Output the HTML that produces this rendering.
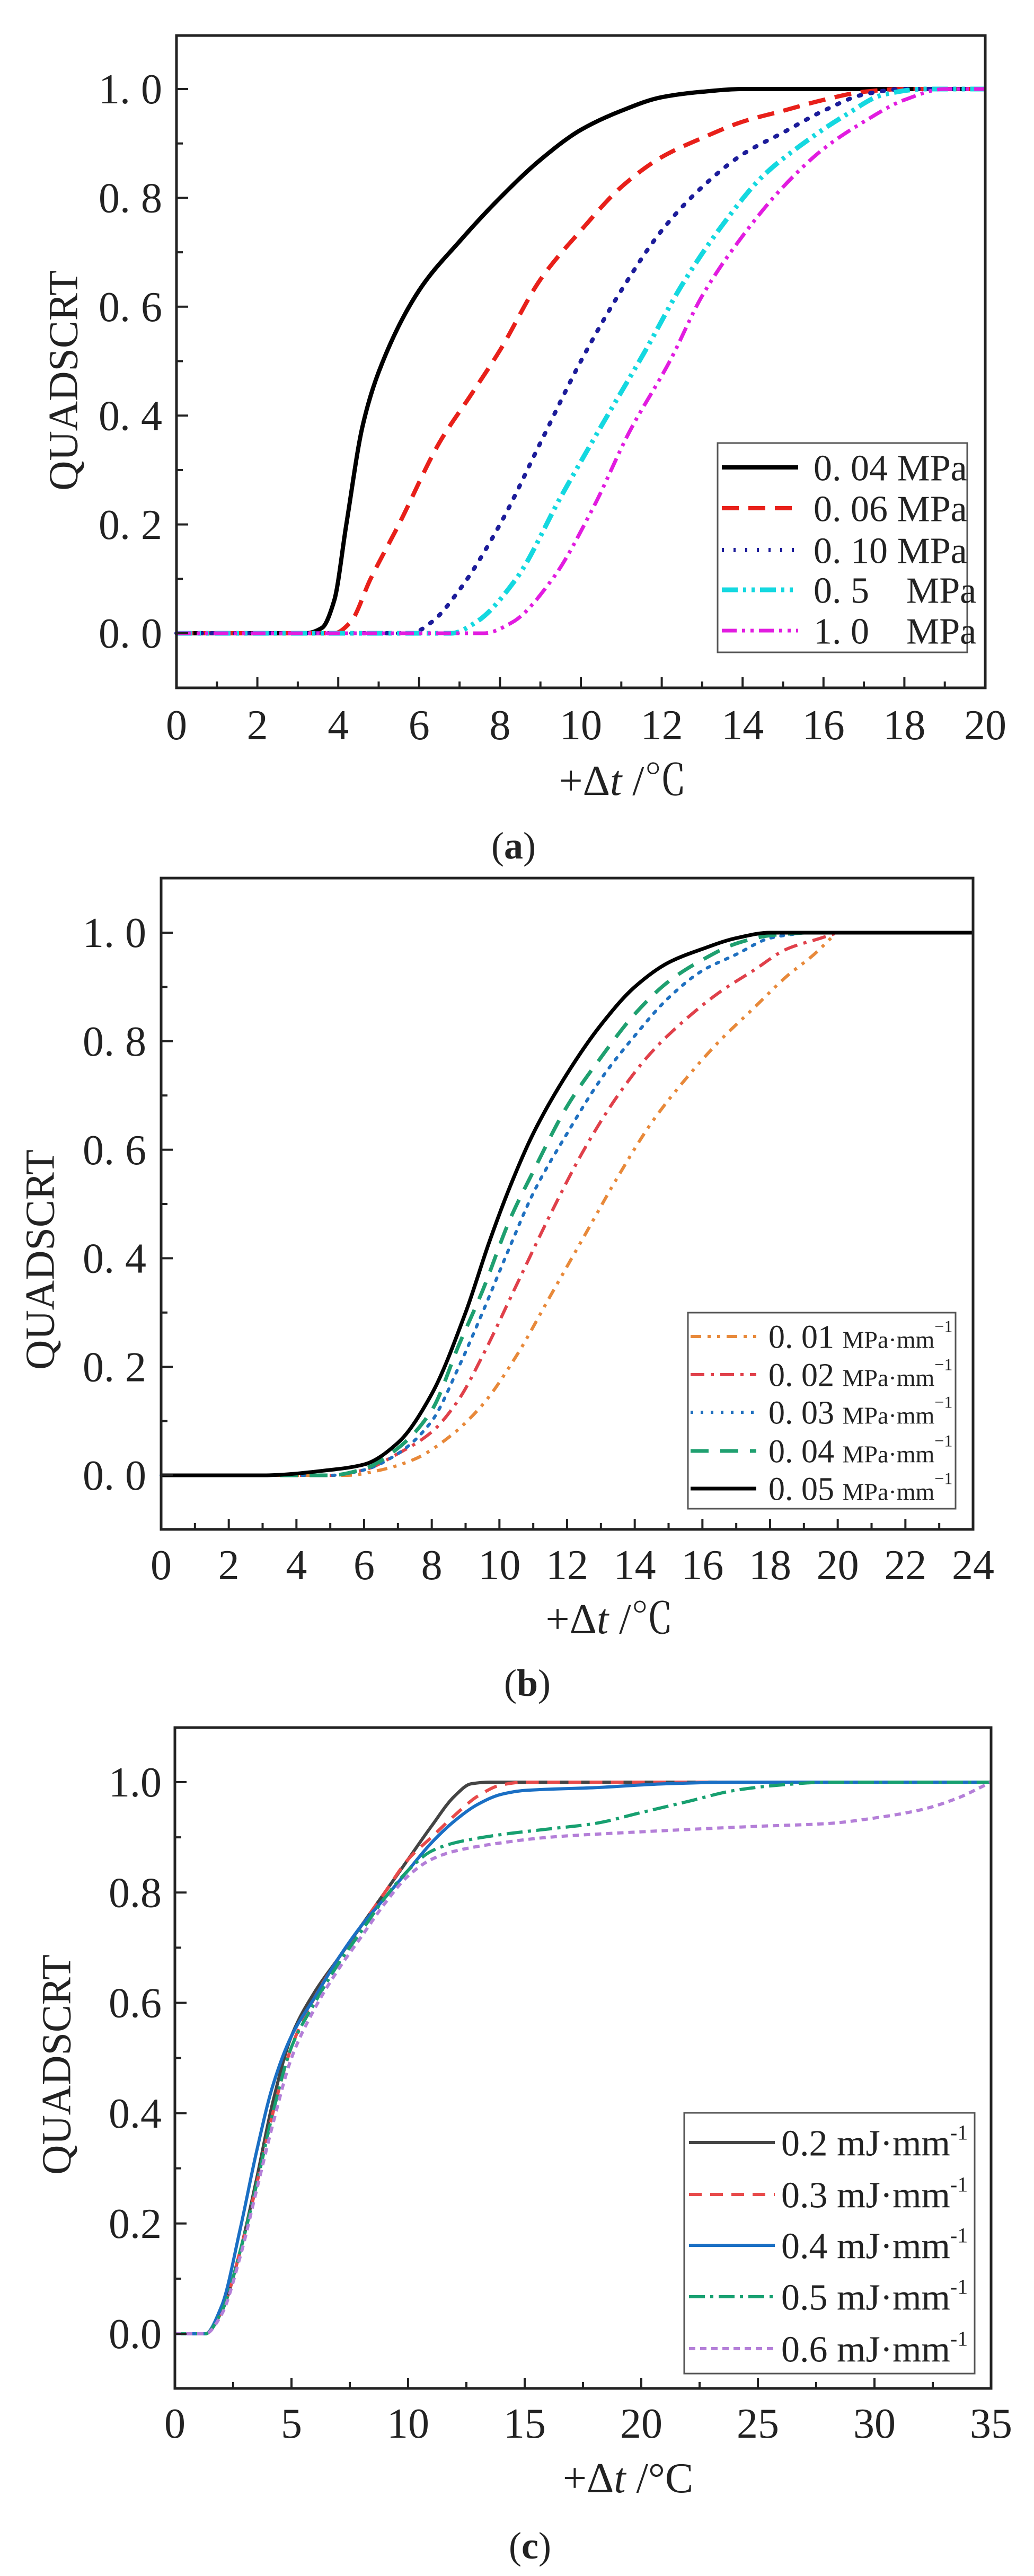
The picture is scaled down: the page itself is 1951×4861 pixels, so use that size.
<!DOCTYPE html>
<html><head><meta charset="utf-8"><style>
html,body{margin:0;padding:0;background:#fff;}
svg{display:block;}
text{font-family:"Liberation Serif","Noto Serif CJK SC",serif;fill:#222;}
</style></head><body>
<svg id="s" width="1951" height="4861" viewBox="0 0 1951 4861" xmlns="http://www.w3.org/2000/svg">
<rect width="1951" height="4861" fill="#fff"/>
<text x="119" y="718" font-size="78" text-anchor="middle" transform="rotate(-90 119 718)" dominant-baseline="central">QUADSCRT</text>
<text x="75" y="2377" font-size="78" text-anchor="middle" transform="rotate(-90 75 2377)" dominant-baseline="central">QUADSCRT</text>
<text x="106" y="3896" font-size="78" text-anchor="middle" transform="rotate(-90 106 3896)" dominant-baseline="central">QUADSCRT</text>

<text x="1175" y="1500" font-size="80" text-anchor="middle">+Δ<tspan font-style="italic">t</tspan> /℃</text>
<text x="1150" y="3082" font-size="80" text-anchor="middle">+Δ<tspan font-style="italic">t</tspan> /℃</text>
<text x="1185" y="4703" font-size="80" text-anchor="middle">+Δ<tspan font-style="italic">t</tspan> /°C</text>

<text x="969" y="1620" font-size="72" text-anchor="middle">(<tspan font-weight="bold">a</tspan>)</text>
<text x="995" y="3200" font-size="72" text-anchor="middle">(<tspan font-weight="bold">b</tspan>)</text>
<text x="1000" y="4828" font-size="72" text-anchor="middle">(<tspan font-weight="bold">c</tspan>)</text>
<g id="g"></g>
</svg>
<script>
var NS="http://www.w3.org/2000/svg",G=document.getElementById('g');
function el(t,a,txt){var e=document.createElementNS(NS,t);for(var k in a)e.setAttribute(k,a[k]);if(txt!=null)e.textContent=txt;G.appendChild(e);return e;}
function mono(pts){
 var n=pts.length,d=[],m=[];
 for(var i=0;i<n-1;i++)d.push((pts[i+1][1]-pts[i][1])/(pts[i+1][0]-pts[i][0]));
 m[0]=d[0];m[n-1]=d[n-2];
 for(var i=1;i<n-1;i++){ if(d[i-1]*d[i]<=0)m[i]=0; else {var h0=pts[i][0]-pts[i-1][0],h1=pts[i+1][0]-pts[i][0];var w1=2*h1+h0,w2=h1+2*h0;m[i]=(w1+w2)/(w1/d[i-1]+w2/d[i]);} }
 for(var i=0;i<n-1;i++){if(d[i]==0){m[i]=0;m[i+1]=0;}}
 var s='M'+pts[0][0]+','+pts[0][1];
 for(var i=0;i<n-1;i++){var h=pts[i+1][0]-pts[i][0];
  s+='C'+(pts[i][0]+h/3)+','+(pts[i][1]+m[i]*h/3)+' '+(pts[i+1][0]-h/3)+','+(pts[i+1][1]-m[i+1]*h/3)+' '+pts[i+1][0]+','+pts[i+1][1];}
 return s;
}
function panel(P){
 var sx=function(x){return P.L+(x-P.x0)/(P.x1-P.x0)*(P.R-P.L);};
 var sy=function(y){return P.y0+(0-y)*(P.y0-P.y1);};
 P.series.forEach(function(s){
  var pts=s.p.map(function(q){return [sx(q[0]),sy(q[1])];});
  var a={d:mono(pts),fill:'none',stroke:s.c,'stroke-width':s.w,'stroke-linecap':s.cap||'butt'};
  if(s.da)a['stroke-dasharray']=s.da;
  el('path',a);
 });
 el('rect',{x:P.L,y:P.T,width:P.R-P.L,height:P.B-P.T,fill:'none',stroke:'#222','stroke-width':5});
 for(var x=P.x0;x<=P.x1+1e-9;x+=P.xm){
  var maj=Math.abs(Math.round(x/P.xM)*P.xM-x)<1e-9;
  el('line',{x1:sx(x),x2:sx(x),y1:P.B,y2:P.B-(maj?20:12),stroke:'#222','stroke-width':4});
  if(maj)el('text',{x:sx(x),y:P.xly,'font-size':P.fs,'text-anchor':'middle'},String(Math.round(x)));
 }
 for(var k=0;k<=10;k++){
  var yy=k/10;var maj=k%2==0;
  el('line',{x1:P.L,x2:P.L+(maj?22:12),y1:sy(yy),y2:sy(yy),stroke:'#222','stroke-width':4});
  if(maj)el('text',{x:P.yr,y:sy(yy)+P.fs*0.34,'font-size':P.fs,'text-anchor':'end'},P.fmt(yy));
 }
 var Lg=P.leg;
 el('rect',{x:Lg.x,y:Lg.y,width:Lg.w,height:Lg.h,fill:'#fff',stroke:'#555','stroke-width':3});
 Lg.items.forEach(function(it,i){
  var s=P.series[it.s],y=Lg.ys[i];
  var a={x1:Lg.lx1,x2:Lg.lx2,y1:y,y2:y,stroke:s.c,'stroke-width':s.w};if(s.da)a['stroke-dasharray']=s.da;
  el('line',a);
  var t=el('text',{x:Lg.tx,y:y+Lg.fs*0.35,'font-size':Lg.fs});
  t.innerHTML=it.t;
 });
}
function f1(v){return v.toFixed(1);}
function f2(v){return v.toFixed(1).replace('.','. ');}
panel({L:333,R:1859,T:67,B:1298,x0:0,x1:20,y0:1195,y1:168,xm:1,xM:2,xly:1395,yr:306,fs:80,fmt:f2,
 series:[
 {c:'#000',w:8,p:[[0,0],[3.2,0],[3.6,0.01],[3.9,0.06],[4.2,0.2],[4.6,0.38],[5,0.48],[6,0.63],[7,0.72],[8,0.8],[9,0.87],[10,0.925],[11,0.96],[12,0.985],[13,0.995],[14,1],[20,1]]},
 {c:'#e8201a',w:8,da:'32,18',p:[[0,0],[3.9,0],[4.3,0.02],[4.8,0.1],[5.5,0.2],[6.5,0.35],[7.3,0.44],[8,0.52],[9,0.65],[10,0.74],[11,0.82],[12,0.875],[13,0.91],[14,0.94],[15,0.96],[16,0.98],[17,0.995],[18,1],[20,1]]},
 {c:'#1c1c9a',w:8,da:'4,18',cap:'round',p:[[0,0],[5.8,0],[6.3,0.02],[7,0.08],[8,0.2],[9,0.35],[10,0.5],[11,0.63],[12,0.74],[13,0.82],[14,0.88],[15,0.92],[16,0.96],[17,0.99],[18,1],[20,1]]},
 {c:'#14d8e0',w:9,da:'30,10,6,10,6,10',p:[[0,0],[6.8,0],[7.4,0.02],[8.4,0.1],[9.5,0.25],[10.5,0.38],[11.6,0.52],[12.5,0.64],[13.5,0.75],[14.5,0.84],[15.5,0.9],[16.5,0.95],[17.5,0.99],[18.5,1],[20,1]]},
 {c:'#e21ce0',w:7,da:'28,10,6,10,6,10',p:[[0,0],[7.6,0],[8.3,0.02],[9.3,0.1],[10.3,0.23],[11.2,0.37],[12.2,0.5],[13,0.62],[14,0.73],[15,0.82],[16,0.89],[17,0.94],[18,0.98],[19,1],[20,1]]}
 ],
 leg:{x:1354,y:836,w:471,h:395,lx1:1362,lx2:1506,tx:1535,fs:70,ys:[882,959,1038,1113,1190],
  items:[{s:0,t:'0. 04 MPa'},{s:1,t:'0. 06 MPa'},{s:2,t:'0. 10 MPa'},{s:3,t:'0. 5&#160;&#160;&#160; MPa'},{s:4,t:'1. 0&#160;&#160;&#160; MPa'}]}
});
var sup='<tspan font-size="46">MPa·mm</tspan><tspan font-size="32" dy="-30">−1</tspan>';
panel({L:304,R:1836,T:1657,B:2886,x0:0,x1:24,y0:2784,y1:1760,xm:1,xM:2,xly:2980,yr:276,fs:80,fmt:f2,
 series:[
 {c:'#e8893a',w:6,da:'20,12,6,12,6,12',p:[[0,0],[5.5,0],[6.5,0.01],[7.5,0.03],[8.5,0.07],[9.5,0.13],[10.5,0.22],[11.5,0.33],[12.5,0.44],[13.5,0.55],[14.5,0.65],[15.5,0.73],[16.5,0.8],[17.5,0.86],[18.5,0.92],[19.3,0.96],[19.8,0.99]]},
 {c:'#e0404a',w:6,da:'26,12,6,12',p:[[0,0],[5,0],[6,0.01],[7,0.04],[8,0.08],[8.8,0.14],[9.5,0.22],[10.5,0.35],[11.5,0.48],[12.5,0.6],[13.5,0.7],[14.5,0.78],[15.5,0.84],[16.5,0.89],[17.5,0.93],[18.5,0.97],[19.5,0.99],[20,1]]},
 {c:'#1f70c0',w:6,da:'5,14',cap:'round',p:[[0,0],[5,0],[6,0.01],[7,0.04],[8,0.1],[8.8,0.2],[9.5,0.3],[10.3,0.42],[11,0.52],[12,0.63],[13,0.73],[14,0.81],[15,0.88],[16,0.93],[17,0.96],[18,0.99],[19,1]]},
 {c:'#1fa070',w:7,da:'34,22',p:[[0,0],[5,0],[6,0.012],[7,0.05],[8,0.12],[8.8,0.24],[9.5,0.34],[10.3,0.47],[11,0.56],[12,0.68],[13,0.77],[14,0.85],[15,0.91],[16,0.95],[17,0.98],[18,0.995],[19,1]]},
 {c:'#000',w:7,p:[[0,0],[3,0],[5,0.01],[6,0.02],[7,0.06],[8,0.15],[9,0.3],[9.7,0.43],[10.3,0.53],[11,0.63],[12,0.74],[13,0.83],[14,0.9],[15,0.945],[16,0.97],[17,0.99],[18,1],[24,1]]}
 ],
 leg:{x:1298,y:2477,w:505,h:370,lx1:1303,lx2:1427,tx:1450,fs:62,ys:[2522,2594,2665,2738,2809],
  items:[{s:0,t:'0. 01 '+sup},{s:1,t:'0. 02 '+sup},{s:2,t:'0. 03 '+sup},{s:3,t:'0. 04 '+sup},{s:4,t:'0. 05 '+sup}]}
});
var sup2='<tspan font-size="40" dy="-30">-1</tspan>';
panel({L:330,R:1870,T:3260,B:4507,x0:0,x1:35,y0:4404,y1:3363,xm:2.5,xM:5,xly:4600,yr:305,fs:80,fmt:f1,
 series:[
 {c:'#444',w:6,p:[[0,0],[1.3,0],[2,0.04],[2.8,0.15],[3.5,0.28],[4.2,0.42],[5,0.54],[6,0.62],[7,0.68],[8,0.74],[9,0.8],[10,0.86],[11,0.92],[12,0.975],[12.7,0.997],[13.5,1],[35,1]]},
 {c:'#e84a4a',w:6,da:'24,16',p:[[0,0],[1.3,0],[2,0.04],[2.8,0.15],[3.5,0.27],[4.2,0.4],[5,0.52],[6,0.61],[7,0.68],[8,0.74],[9,0.8],[10,0.86],[11,0.9],[12,0.94],[13,0.975],[14,0.995],[15,1],[35,1]]},
 {c:'#1a6fc4',w:6,p:[[0,0],[1.3,0],[2,0.05],[2.8,0.19],[3.5,0.33],[4.2,0.45],[5,0.54],[6,0.61],[7,0.68],[8,0.74],[9,0.79],[10,0.84],[11,0.89],[12,0.93],[13,0.96],[14,0.978],[15,0.985],[18,0.99],[21,0.997],[24,1],[35,1]]},
 {c:'#17a070',w:6,da:'30,10,6,10',p:[[0,0],[1.3,0],[2,0.04],[2.8,0.15],[3.5,0.27],[4.2,0.4],[5,0.52],[6,0.6],[7,0.67],[8,0.73],[9,0.79],[10,0.84],[11,0.875],[12,0.89],[14,0.905],[16,0.915],[18,0.925],[20,0.945],[22,0.965],[24,0.985],[26,0.995],[28,1],[35,1]]},
 {c:'#b47fd8',w:6,da:'12,9',p:[[0,0],[1.3,0],[2,0.035],[2.8,0.14],[3.5,0.26],[4.2,0.38],[5,0.5],[6,0.59],[7,0.66],[8,0.72],[9,0.78],[10,0.83],[11,0.86],[12,0.875],[14,0.89],[16,0.9],[20,0.91],[25,0.92],[28,0.925],[30,0.935],[32,0.95],[33.5,0.97],[35,1]]}
 ],
 leg:{x:1291,y:3987,w:548,h:492,lx1:1300,lx2:1462,tx:1474,fs:70,ys:[4043,4141,4237,4334,4432],
  items:[{s:0,t:'0.2 mJ·mm'+sup2},{s:1,t:'0.3 mJ·mm'+sup2},{s:2,t:'0.4 mJ·mm'+sup2},{s:3,t:'0.5 mJ·mm'+sup2},{s:4,t:'0.6 mJ·mm'+sup2}]}
});
</script>
</body></html>
